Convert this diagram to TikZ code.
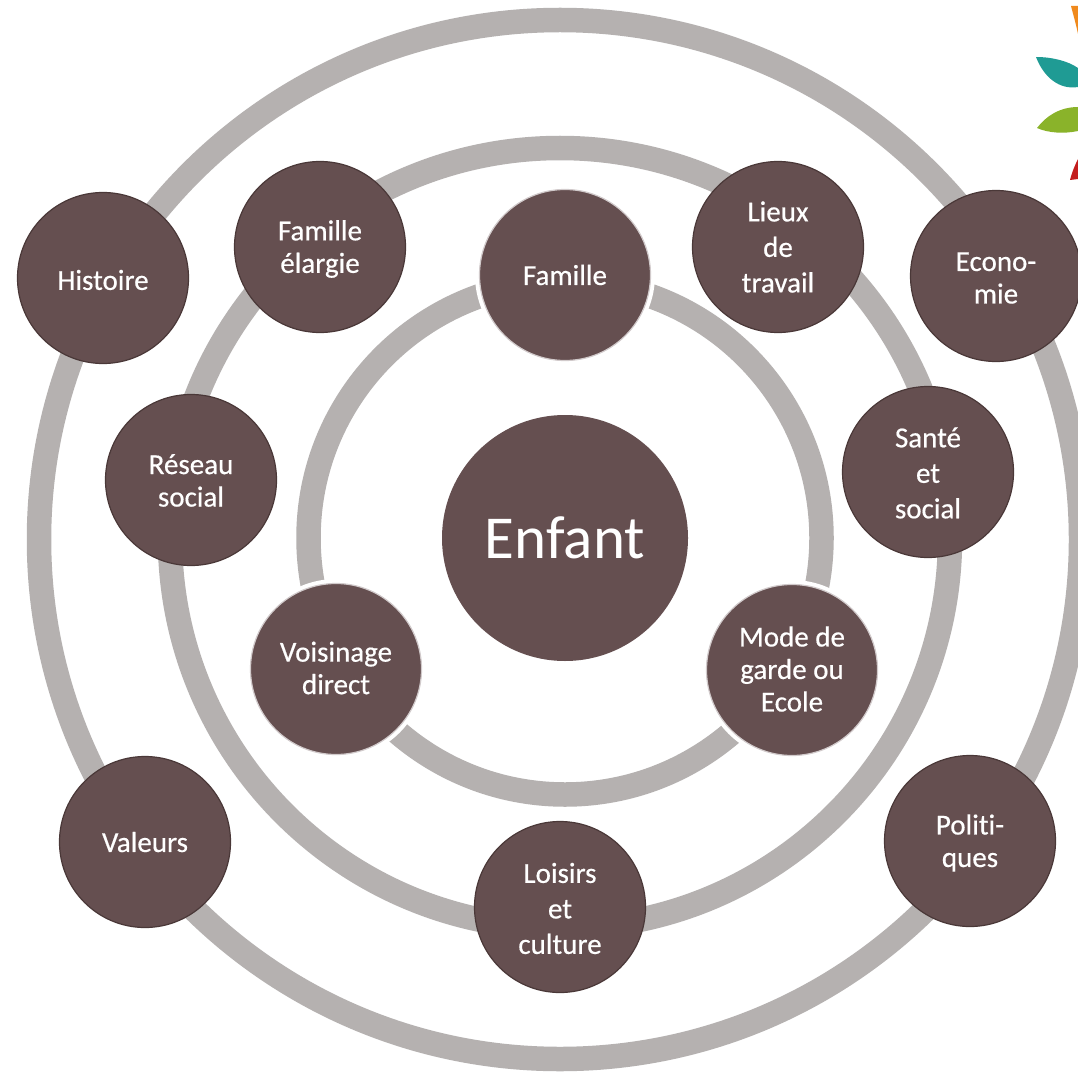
\documentclass[tikz,border=0pt]{standalone}
\usepackage{fontspec}
\setmainfont[Ligatures=NoCommon]{Carlito}
\definecolor{ringc}{HTML}{B5B1B0}
\definecolor{nodec}{HTML}{654F50}
\definecolor{edgec}{HTML}{4A3838}
\definecolor{leafo}{HTML}{F08A1D}
\definecolor{leaft}{HTML}{1F9B94}
\definecolor{leafg}{HTML}{8AB32A}
\definecolor{leafr}{HTML}{C41E1E}
\tikzset{
  ring/.style={draw=ringc,line width=24.5pt,fill=none},
  halo/.style={circle,fill=white,minimum size=180pt,inner sep=0pt},
  hubbase/.style={circle,fill=nodec,draw=edgec,line width=1.2pt,minimum size=171pt,inner sep=0pt},
  hubpale/.style={hubbase,draw=white!70!nodec},
  hublabel/.style={align=center,text=white,inner sep=0pt,font=\fontsize{29}{32.5}\selectfont\addfontfeature{FakeBold=0.5}},
  hublabelwide/.style={hublabel,font=\fontsize{29}{35.5}\selectfont\addfontfeature{FakeBold=0.5}},
  core/.style={circle,fill=nodec,minimum size=246pt,inner sep=0pt,text=white,font=\fontsize{61}{63}\selectfont}
}
% #1 hub style, #2 label style, #3 position, #4 name, #5 vertical text shift, #6 text
\newcommand{\hubat}[6]{\node[#1,label={[#2,yshift=#5pt]center:#6}] (#4) at (#3) {};}
\begin{document}
\begin{tikzpicture}[x=1pt,y=-1pt]
\useasboundingbox (0,0) rectangle (1078,1075);
\fill[white] (0,0) rectangle (1078,1075);
% logo leaves
\fill[leafo] (1071,6) -- (1078,6) -- (1078,34) .. controls (1076,24) and (1073,14) .. (1071,6) -- cycle;
\fill[leaft] (1036,57) .. controls (1052,57) and (1068,61) .. (1078,68) -- (1078,87) .. controls (1060,90) and (1044,78) .. (1036,57) -- cycle;
\fill[leafg] (1037,128) .. controls (1046,116) and (1060,107) .. (1078,107) -- (1078,131) .. controls (1064,134) and (1048,133) .. (1037,128) -- cycle;
\fill[leafr] (1070,180) .. controls (1072,172) and (1075,165) .. (1078,159) -- (1078,179) -- cycle;
% rings
\coordinate (ctr) at (565,538);
\draw[ring] (560,539.5) circle[x radius=521pt,y radius=519.5pt];
\draw[ring] (560,538) circle[radius=390pt];
\draw[ring] (ctr) circle[radius=256.5pt];
% white gaps round the inner-ring nodes
\node[halo] at (565,275) {};
\node[halo] at (792,670) {};
\node[halo] at (336,669) {};
% nodes
\node[core] (enfant) at (ctr) {Enfant};
\hubat{hubpale}{hublabel}{565,275}{famille}{0}{Famille}
\hubat{hubbase}{hublabelwide}{778,247}{lieux}{0}{Lieux\\de\\travail}
\hubat{hubbase}{hublabel}{996,276}{eco}{-2}{Econo-\\mie}
\hubat{hubbase}{hublabelwide}{928,472}{sante}{-1}{Santé\\et\\social}
\hubat{hubpale}{hublabel}{792,670}{mode}{1}{Mode de\\garde ou\\Ecole}
\hubat{hubbase}{hublabel}{970,841}{poli}{-2}{Politi-\\ques}
\hubat{hubbase}{hublabelwide}{560,907}{loisirs}{-1.5}{Loisirs\\et\\culture}
\hubat{hubbase}{hublabel}{145,842}{valeurs}{0}{Valeurs}
\hubat{hubpale}{hublabel}{336,669}{voisin}{1}{Voisinage\\direct}
\hubat{hubbase}{hublabel}{191,480}{reseau}{-0.5}{Réseau\\social}
\hubat{hubbase}{hublabel}{320,247}{elargie}{-2}{Famille\\élargie}
\hubat{hubbase}{hublabel}{103,278}{histoire}{-2}{Histoire}
\end{tikzpicture}
\end{document}
